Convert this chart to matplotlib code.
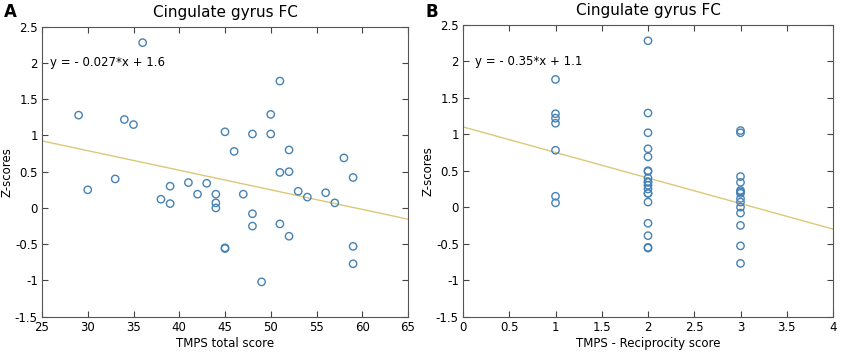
import matplotlib.pyplot as plt
import numpy as np

# panel A: TMPS total score vs Z-scores
total_score = [29, 30, 33, 34, 35, 36, 38, 39, 39, 41, 42, 43, 44, 44, 44, 45, 45, 45,
               46, 47, 48, 48, 48, 49, 50, 50, 51, 51, 51, 52, 52, 52, 53, 54, 56, 57,
               58, 59, 59, 59]
z_a = [1.28, 0.25, 0.40, 1.22, 1.15, 2.28, 0.12, 0.30, 0.06, 0.35, 0.19, 0.34, 0.19,
       0.07, 0.00, 1.05, -0.55, -0.56, 0.78, 0.19, 1.02, -0.08, -0.25, -1.02, 1.29,
       1.02, 1.75, 0.49, -0.22, 0.80, 0.50, -0.39, 0.23, 0.15, 0.21, 0.07, 0.69, 0.42,
       -0.53, -0.77]
slope_a, icept_a = -0.027, 1.6

# panel B: reciprocity score vs Z-scores
recip_score = [1]*7 + [2]*19 + [3]*14
z_b = [1.75, 1.28, 1.22, 1.15, 0.78, 0.15, 0.06,
       2.28, 1.29, 1.02, 0.80, 0.69, 0.50, 0.49, 0.40, 0.35, 0.34, 0.30, 0.25, 0.19,
       0.19, 0.07, -0.22, -0.39, -0.55, -0.56,
       1.05, 1.02, 0.42, 0.34, 0.23, 0.21, 0.19, 0.12, 0.07, 0.00, -0.08, -0.25,
       -0.53, -0.77]
slope_b, icept_b = -0.35, 1.1

dot_col = '#4682b4'
line_col = '#dcc878'

fig = plt.figure(figsize=(8.5, 3.59), dpi=100)
axA = fig.add_axes([42/850, 1-316.7/359, 366/850, 290/359])
axB = fig.add_axes([463/850, 1-316.7/359, 370/850, 292/359])

def draw(ax, x, y, slope, icept, xlim, xticks, xlabel, eqx, eq):
    ax.scatter(x, y, s=28, facecolors='none', edgecolors=dot_col, linewidths=1.0, zorder=3)
    xx = np.array(xlim)
    ax.plot(xx, slope*xx + icept, color=line_col, lw=1.0, zorder=2)
    ax.set_xlim(xlim)
    ax.set_ylim(-1.5, 2.5)
    ax.set_xticks(xticks)
    ax.set_xticklabels(['%g' % t for t in xticks])
    yt = np.arange(-1.5, 2.6, 0.5)
    ax.set_yticks(yt)
    ax.set_yticklabels(['%g' % t for t in yt])
    ax.tick_params(direction='in', top=True, right=True, labelsize=8.5, length=4,
                   color='#444444', pad=3)
    for s in ax.spines.values():
        s.set_color('#555555')
        s.set_linewidth(0.8)
    ax.set_xlabel(xlabel, fontsize=8.5, labelpad=2)
    ax.set_ylabel('Z-scores', fontsize=8.5)
    ax.yaxis.set_label_coords(-0.078, 0.5)
    ax.set_title('Cingulate gyrus FC', fontsize=11, pad=7)
    ax.text(eqx, 2.0, eq, fontsize=8.5, va='center', ha='left')

draw(axA, total_score, z_a, slope_a, icept_a, (25, 65), list(range(25, 66, 5)),
     'TMPS total score', 25.9, 'y = - 0.027*x + 1.6')
draw(axB, recip_score, z_b, slope_b, icept_b, (0, 4), list(np.arange(0, 4.1, 0.5)),
     'TMPS - Reciprocity score', 0.13, 'y = - 0.35*x + 1.1')

fig.text(10/850, 1-12/359, 'A', fontsize=12, fontweight='bold', va='center', ha='center')
fig.text(432/850, 1-12/359, 'B', fontsize=12, fontweight='bold', va='center', ha='center')

fig.savefig('out.png', dpi=100)
